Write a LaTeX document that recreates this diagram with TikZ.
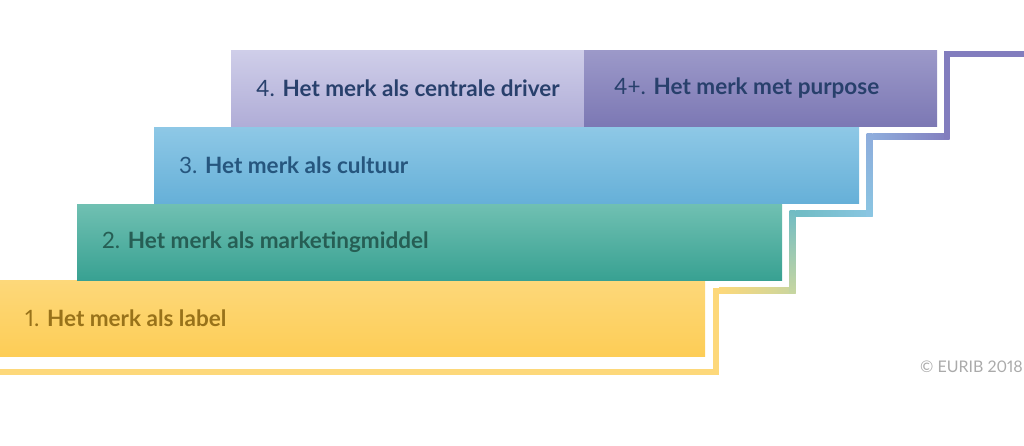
\documentclass[tikz,border=0pt]{standalone}
\usepackage{fontspec}
\setmainfont{Lato}[Numbers=Proportional]
\usetikzlibrary{positioning}

\definecolor{ylwtop}{RGB}{253,216,122}
\definecolor{ylwbot}{RGB}{253,205,86}
\definecolor{tealtop}{RGB}{112,192,178}
\definecolor{tealbot}{RGB}{56,161,146}
\definecolor{bluetop}{RGB}{142,200,230}
\definecolor{bluebot}{RGB}{102,176,216}
\definecolor{lavtop}{RGB}{207,206,233}
\definecolor{lavbot}{RGB}{176,173,215}
\definecolor{purtop}{RGB}{156,153,201}
\definecolor{purbot}{RGB}{124,120,180}
\definecolor{lineylw}{RGB}{253,216,122}
\definecolor{linelime}{RGB}{200,214,160}
\definecolor{lineteal}{RGB}{112,188,196}
\definecolor{lineblue}{RGB}{138,198,226}
\definecolor{linelav}{RGB}{142,172,220}
\definecolor{linepur}{RGB}{130,125,190}
\definecolor{txtgold}{RGB}{152,114,26}
\definecolor{txtteal}{RGB}{38,94,84}
\definecolor{txtblue}{RGB}{38,86,126}
\definecolor{txtnavy}{RGB}{40,64,108}
\definecolor{txtgray}{RGB}{170,170,170}

\tikzset{
  bar/.style={shade, inner sep=0pt, anchor=north west, minimum height=76pt},
  lbl/.style={anchor=west, inner sep=0pt, font=\fontsize{22.5}{26}\selectfont},
}

\begin{document}
\begin{tikzpicture}[x=1pt,y=-1pt]
  \useasboundingbox (0,0) rectangle (1024,446);

  % the steps
  \node[bar, top color=ylwtop, bottom color=ylwbot, minimum width=705pt] (bar1) at (0,280) {};
  \node[bar, top color=tealtop, bottom color=tealbot, minimum width=705pt] (bar2) at (77,204) {};
  \node[bar, top color=bluetop, bottom color=bluebot, minimum width=705pt] (bar3) at (154,127) {};
  \node[bar, top color=lavtop, bottom color=lavbot, minimum width=353pt] (bar4) at (231,50) {};
  \node[bar, top color=purtop, bottom color=purbot, minimum width=353pt] (bar5) at (584,50) {};

  % labels
  \node[lbl, text=txtgold, right=25pt of bar1.west] (lbl1) {1. \textbf{Het merk als label}};
  \node[lbl, text=txtteal, right=25pt of bar2.west] (lbl2) {2. \textbf{Het merk als marketingmiddel}};
  \node[lbl, text=txtblue, right=25pt of bar3.west] (lbl3) {3. \textbf{Het merk als cultuur}};
  \node[lbl, text=txtnavy, right=25pt of bar4.west] (lbl4) {4. \textbf{Het merk als centrale driver}};
  \node[lbl, text=txtnavy, right=30pt of bar5.west] (lbl5) {4+. \textbf{Het merk met purpose}};

  % stair line
  \fill[lineylw] (0,368.5) rectangle (719,374.5);
  \fill[lineylw] (713,374.5) rectangle (719,287.5);
  \shade[left color=lineylw, middle color=lineylw!70!linelime, right color=linelime] (719,287.5) rectangle (795.5,293.5);
  \shade[bottom color=linelime, top color=lineteal] (789.5,293.5) rectangle (795.5,210.5);
  \shade[left color=lineteal, right color=lineblue] (795.5,210.5) rectangle (872.5,216.5);
  \shade[bottom color=lineblue, top color=linelav] (866.5,216.5) rectangle (872.5,133.5);
  \shade[left color=linelav, right color=linepur] (872.5,133.5) rectangle (949.5,139.5);
  \fill[linepur] (943.5,139.5) rectangle (949.5,51);
  \fill[linepur] (943.5,51) rectangle (1024,57);

  \node[anchor=east, inner sep=0pt, text=txtgray, font=\fontsize{16}{19}\selectfont] (copy) at (1023,367) {© EURIB 2018};
\end{tikzpicture}
\end{document}
